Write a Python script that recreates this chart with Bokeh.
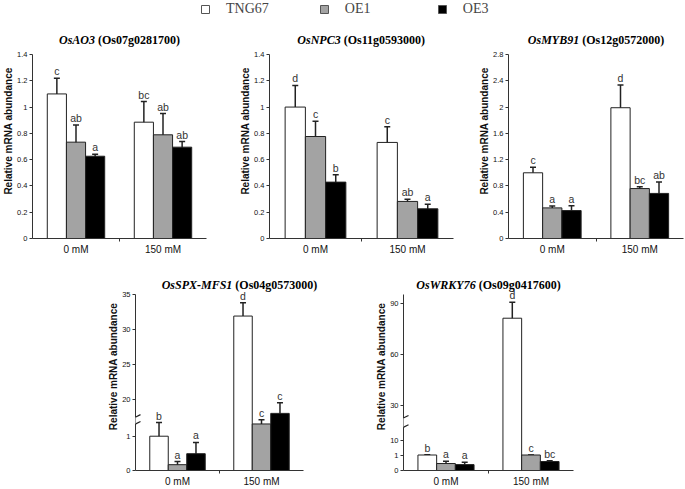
from bokeh.plotting import figure
from bokeh.models import (Range1d, FixedTicker, Whisker, TeeHead, ColumnDataSource,
                          LabelSet, Label, Legend, LegendItem, Arrow, Spacer)
from bokeh.layouts import column, row
from bokeh.core.properties import value
from bokeh.embed import file_html
from bokeh.resources import INLINE

# ---------------- data ----------------
groups = ["0 mM", "150 mM"]
genotypes = ["TNG67", "OE1", "OE3"]
bar_colors = ["#ffffff", "#a3a3a3", "#000000"]

# order: 0 mM (TNG67, OE1, OE3), 150 mM (TNG67, OE1, OE3)
ao3_mean = [1.10, 0.733, 0.626, 0.885, 0.789, 0.695]
ao3_err = [0.12, 0.13, 0.015, 0.157, 0.162, 0.043]
ao3_sig = ["c", "ab", "a", "bc", "ab", "ab"]

npc3_mean = [1.00, 0.776, 0.429, 0.731, 0.282, 0.226]
npc3_err = [0.165, 0.117, 0.056, 0.12, 0.016, 0.035]
npc3_sig = ["d", "c", "b", "c", "ab", "a"]

myb91_mean = [1.00, 0.466, 0.425, 1.99, 0.76, 0.686]
myb91_err = [0.085, 0.028, 0.075, 0.345, 0.027, 0.175]
myb91_sig = ["c", "a", "a", "d", "bc", "ab"]

spx_mean = [1.0, 0.17, 0.49, 31.9, 16.6, 18.1]
spx_err = [0.4, 0.09, 0.33, 1.9, 0.6, 1.5]
spx_sig = ["b", "a", "a", "d", "c", "c"]

wrky_mean = [1.0, 0.45, 0.38, 81.5, 1.0, 0.58]
wrky_err = [0.16, 0.14, 0.15, 9.5, 0.04, 0.05]
wrky_sig = ["b", "a", "a", "d", "c", "bc"]

ticks_14 = [0, 0.2, 0.4, 0.6, 0.8, 1.0, 1.2, 1.4]
ticks_28 = [0, 0.4, 0.8, 1.2, 1.6, 2.0, 2.4, 2.8]
spx_ticks = [0, 1, 20, 25, 30, 35]
wrky_ticks = [0, 1, 10, 30, 60, 90]

# ---------------- helpers ----------------
SANS = "Liberation Sans"
SERIF = "Liberation Serif"
BW = 0.22
TITLE_FS = 12.0
LEFT = 30

TB = {' ': 250, '(': 333, ')': 333, '-': 333, 'O': 778, 's': 389, 'g': 500,
      'A': 722, 'N': 722, 'P': 611, 'C': 722, 'M': 944, 'Y': 722, 'B': 667,
      'S': 556, 'X': 722, 'F': 611, 'W': 1000, 'R': 722, 'K': 778}
TBI = {'O': 722, 's': 389, 'A': 667, 'N': 722, 'P': 611, 'C': 667, 'M': 889,
       'Y': 611, 'B': 667, 'S': 556, 'X': 667, 'F': 667, 'W': 889, 'R': 667,
       'K': 667, '-': 333}


def text_w(s, table, size):
    return sum(table.get(c, 500) for c in s) * size / 1000.0


def ident(v):
    return v


def spx_map(v):
    if v <= 1.5:
        return 35.0 * v
    return 54.0 + (v - 17.5) * 7.2


def wrky_map(v):
    if v <= 1:
        return 16.0 * v
    if v <= 20:
        return 16.0 + (v - 1) * 15.0 / 9.0
    return 67.6 + (v - 30) * 1.74


def make_panel(gene, locus, mean, err, sig, ticks, fwd, yr, axis_w, extra_w, right,
               top, extra, axis_px, bottom, title_gap, title_shift=0, breaks=None):
    left = LEFT
    width = left + axis_w + extra_w + right
    height = top + extra + axis_px + bottom
    ppu = axis_px / yr
    ytop = yr * (axis_px + extra) / axis_px
    xtop = 2.0 * (axis_w + extra_w) / axis_w
    p = figure(width=width, height=height, x_range=Range1d(0, xtop),
               y_range=Range1d(0, ytop), output_backend="svg",
               toolbar_location=None, min_border_left=left,
               min_border_right=right, min_border_top=top,
               min_border_bottom=bottom)
    p.outline_line_color = None
    p.grid.visible = False

    xs = [gi + 0.5 + (k - 1) * BW for gi in range(len(groups)) for k in range(len(genotypes))]
    cols = [bar_colors[k] for gi in range(len(groups)) for k in range(len(genotypes))]
    src = ColumnDataSource(dict(
        x=xs,
        top=[fwd(m) for m in mean],
        up=[fwd(m + e) for m, e in zip(mean, err)],
        lo=[fwd(max(m - e, 0)) for m, e in zip(mean, err)],
        color=cols, sig=sig))
    p.vbar(x="x", top="top", bottom=0, width=BW, fill_color="color",
           line_color="#222222", line_width=1, source=src)
    p.add_layout(Whisker(base="x", upper="up", lower="lo", source=src,
                         dimension="height", line_color="#222222", line_width=1.5,
                         upper_head=TeeHead(size=6, line_color="#222222", line_width=1.5),
                         lower_head=TeeHead(size=6, line_color="#222222", line_width=1.5)))
    p.add_layout(LabelSet(x="x", y="up", text="sig", source=src,
                          text_align="center", text_baseline="bottom", y_offset=1,
                          text_font=value(SANS), text_font_size=value("10.5px"),
                          text_color=value("#333333")))

    # axes
    yax = p.yaxis[0]
    pos = [fwd(t) for t in ticks]
    yax.bounds = (0, yr)
    yax.ticker = FixedTicker(ticks=pos, minor_ticks=[])
    yax.major_label_overrides = {pv: f"{t:g}" for pv, t in zip(pos, ticks)}
    yax.axis_label = "Relative mRNA abundance"
    yax.axis_label_text_font = SANS
    yax.axis_label_text_font_size = "10px"
    yax.axis_label_text_font_style = "bold"
    yax.axis_label_text_color = "#111111"
    yax.axis_label_standoff = 0
    yax.major_label_text_font = SANS
    yax.major_label_text_font_size = "7.5px"
    yax.major_label_text_color = "#111111"
    yax.major_label_standoff = 2
    yax.major_tick_out = 3
    yax.major_tick_in = 0
    yax.axis_line_color = "#333333"
    yax.major_tick_line_color = "#333333"

    xax = p.xaxis[0]
    xax.bounds = (0, 2)
    xax.ticker = FixedTicker(ticks=[0.5, 1.5], minor_ticks=[1.0])
    xax.major_label_overrides = {0.5: groups[0], 1.5: groups[1]}
    xax.major_tick_out = 0
    xax.major_tick_in = 0
    xax.minor_tick_out = 3
    xax.minor_tick_in = 0
    xax.minor_tick_line_color = "#333333"
    xax.axis_line_color = "#333333"
    xax.major_label_standoff = 2
    xax.major_label_text_font = SANS
    xax.major_label_text_font_size = "10px"
    xax.major_label_text_color = "#111111"

    # title: italic gene symbol + locus id
    w_name = text_w(gene, TBI, TITLE_FS)
    w_sp = text_w(" ", TB, TITLE_FS)
    w_id = text_w(locus, TB, TITLE_FS)
    x0 = -(w_name + w_sp + w_id) / 2 + title_shift
    yy = yr + title_gap / ppu
    p.add_layout(Label(x=1.0, y=yy, x_offset=x0, text=gene,
                       text_font=SERIF, text_font_size=f"{TITLE_FS}px",
                       text_font_style="bold italic", text_baseline="middle",
                       text_align="left", text_color="#000000"))
    p.add_layout(Label(x=1.0, y=yy, x_offset=x0 + w_name + w_sp, text=locus,
                       text_font=SERIF, text_font_size=f"{TITLE_FS}px",
                       text_font_style="bold", text_baseline="middle",
                       text_align="left", text_color="#000000"))

    if breaks:
        dx = 5.0 / (axis_w / 2.0)
        b_lo, b_hi = breaks
        p.add_layout(Arrow(end=None, x_start=0, y_start=b_lo, x_end=0, y_end=b_hi,
                           line_color="white", line_width=4))
        for b in breaks:
            p.add_layout(Arrow(end=None, x_start=-dx, y_start=b - 2.5 / ppu,
                               x_end=dx, y_end=b + 2.5 / ppu,
                               line_color="#222222", line_width=1.2))
    return p


# ---------------- legend ----------------
lf = figure(width=685, height=20, x_range=Range1d(0, 1), y_range=Range1d(0, 1),
            output_backend="svg", toolbar_location=None, min_border=0,
            x_axis_location=None, y_axis_location=None)
lf.outline_line_color = None
lf.grid.visible = False
lsrc = ColumnDataSource(dict(x=[-2.0 - i for i in range(len(genotypes))],
                             color=bar_colors, name=genotypes))
lr = lf.vbar(x="x", top=0, bottom=0, width=0.1, fill_color="color",
             line_color="#555555", source=lsrc)
items = [LegendItem(label=g, renderers=[lr], index=k) for k, g in enumerate(genotypes)]
leg = Legend(items=items, orientation="horizontal", location=(200, 3),
             glyph_width=10, glyph_height=10, label_standoff=16, spacing=50,
             label_width=42, label_height=14, padding=0, margin=0,
             border_line_alpha=0, background_fill_alpha=0,
             label_text_font=SERIF, label_text_font_size="14px")
lf.add_layout(leg)

# ---------------- panels ----------------
# args: axis_w, extra_w, right, top, extra, axis_px, bottom, title_gap
f1 = make_panel("OsAO3", "(Os07g0281700)", ao3_mean, ao3_err, ao3_sig, ticks_14, ident, 1.4,
                176, 0, 31, 3, 31, 184, 22, 15)
f2 = make_panel("OsNPC3", "(Os11g0593000)", npc3_mean, npc3_err, npc3_sig, ticks_14, ident, 1.4,
                186, 0, 23, 3, 31, 184, 22, 15)
f3 = make_panel("OsMYB91", "(Os12g0572000)", myb91_mean, myb91_err, myb91_sig, ticks_28, ident, 2.8,
                177, 0, 2, 3, 31, 184, 22, 15)
f4 = make_panel("OsSPX-MFS1", "(Os04g0573000)", spx_mean, spx_err, spx_sig, spx_ticks, spx_map, 180.0,
                168, 37, 33, 2, 32, 178, 17, 9, title_shift=20, breaks=(47.5, 54.5))
f5 = make_panel("OsWRKY76", "(Os09g0417600)", wrky_mean, wrky_err, wrky_sig, wrky_ticks, wrky_map, 182.0,
                170, 0, 20, 2, 32, 178, 17, 9, breaks=(44.6, 54.3))

layout = column(lf, row(f1, f2, f3), row(Spacer(width=105, height=229), f4, f5))

open("out.html", "w").write(file_html(layout, INLINE))
